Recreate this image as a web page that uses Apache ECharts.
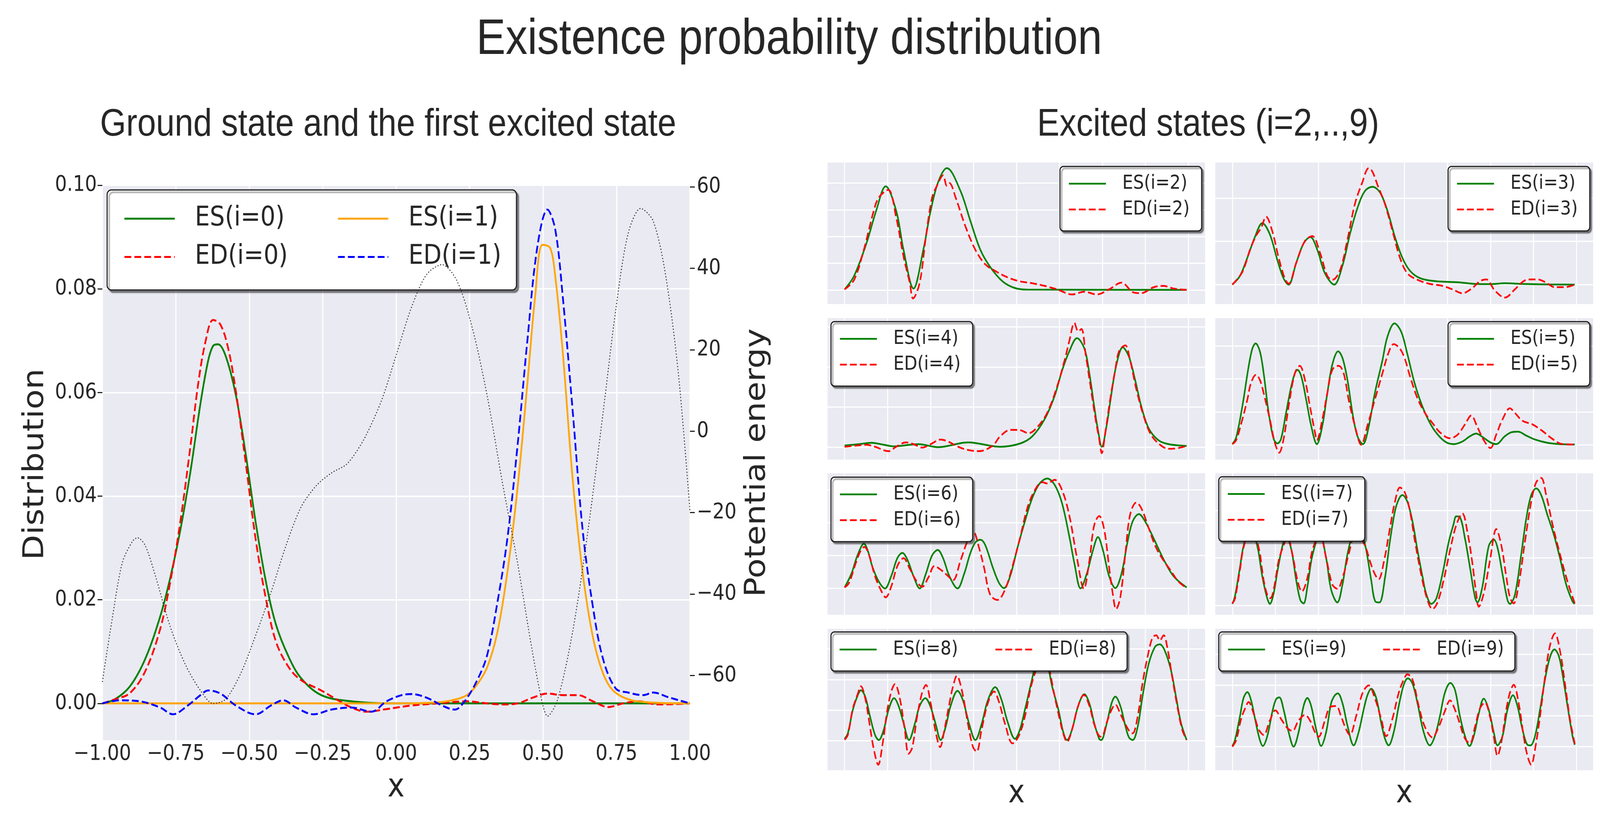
<!DOCTYPE html>
<html><head><meta charset="utf-8">
<script src="https://cdn.jsdelivr.net/npm/echarts@6/dist/echarts.min.js"></script>
<style>html,body{margin:0;padding:0;background:#fff;overflow:hidden;}#c{width:4675px;height:2111px;transform-origin:0 0;}</style>
</head><body><div id="c"></div>
<script>
// ---------------- data ----------------
const xGrid = [-1, -0.75, -0.5, -0.25, 0, 0.25, 0.5, 0.75, 1];
const distTicks = [0, 0.02, 0.04, 0.06, 0.08, 0.1];
const potTicks = [-60, -40, -20, 0, 20, 40, 60];

const es0 = [[-1,0],[-0.957,0.0008],[-0.906,0.0033],[-0.854,0.0086],[-0.803,0.0168],[-0.769,0.0242],[-0.735,0.0333],[-0.700,0.0448],[-0.666,0.0579],[-0.640,0.0661],[-0.623,0.0690],[-0.606,0.0693],[-0.580,0.0670],[-0.546,0.0596],[-0.512,0.0481],[-0.478,0.0349],[-0.443,0.0234],[-0.409,0.0152],[-0.366,0.0090],[-0.324,0.0049],[-0.255,0.0016],[-0.152,0.0004],[-0.015,0],[1,0]];
const ed0 = [[-1,0],[-0.957,0.0008],[-0.906,0.002],[-0.854,0.0062],[-0.803,0.0144],[-0.769,0.0234],[-0.735,0.0349],[-0.700,0.0497],[-0.675,0.0612],[-0.649,0.0698],[-0.623,0.0740],[-0.598,0.0731],[-0.572,0.0686],[-0.546,0.0604],[-0.512,0.0464],[-0.478,0.0316],[-0.443,0.0201],[-0.409,0.0119],[-0.366,0.0070],[-0.324,0.0045],[-0.255,0.0025],[-0.204,0.0008],[-0.152,-0.0008],[-0.101,-0.0016],[-0.033,-0.0011],[0.053,-0.0004],[0.139,0],[0.241,0.0004],[0.310,0],[0.361,-0.0002],[0.413,0],[0.464,0.0011],[0.515,0.0019],[0.567,0.0016],[0.618,0.0016],[0.670,0.0004],[0.721,-0.0007],[0.772,0],[0.824,0.0004],[0.892,-0.0002],[1,0]];
const es1 = [[-1,0],[0.019,0],[0.139,0.0002],[0.190,0.0006],[0.241,0.0016],[0.276,0.0037],[0.310,0.0070],[0.344,0.0136],[0.378,0.0251],[0.413,0.0415],[0.447,0.0620],[0.473,0.0785],[0.498,0.0885],[0.524,0.0879],[0.541,0.0826],[0.567,0.0678],[0.601,0.0431],[0.635,0.0251],[0.670,0.0127],[0.704,0.0058],[0.738,0.0025],[0.789,0.0008],[0.858,0.0002],[1,0]];
const ed1 = [[-1,0],[-0.940,0.0006],[-0.872,0.0004],[-0.803,-0.0008],[-0.760,-0.0021],[-0.709,-0.0004],[-0.666,0.0016],[-0.640,0.0025],[-0.598,0.0019],[-0.546,-0.0004],[-0.478,-0.0021],[-0.426,-0.0004],[-0.384,0.0006],[-0.341,-0.0008],[-0.281,-0.0021],[-0.221,-0.0012],[-0.152,-0.0008],[-0.084,-0.0016],[-0.033,0.0004],[0.019,0.0016],[0.053,0.0018],[0.104,0.0011],[0.156,-0.0004],[0.199,-0.0012],[0.233,0.0004],[0.276,0.0045],[0.310,0.0094],[0.344,0.0193],[0.378,0.0316],[0.413,0.0497],[0.447,0.0703],[0.481,0.0883],[0.515,0.0953],[0.541,0.0916],[0.567,0.0785],[0.601,0.0563],[0.635,0.0333],[0.670,0.0185],[0.704,0.0086],[0.747,0.0029],[0.789,0.0021],[0.841,0.0016],[0.875,0.0021],[0.926,0.0012],[1,0]];
const potential = [[-1,-61.6],[-0.966,-45.9],[-0.932,-32.3],[-0.897,-27.0],[-0.880,-26.2],[-0.854,-28.1],[-0.820,-35.4],[-0.769,-48.0],[-0.717,-57.4],[-0.666,-63.7],[-0.623,-66.9],[-0.580,-65.8],[-0.529,-59.5],[-0.478,-50.1],[-0.426,-39.6],[-0.375,-28.1],[-0.324,-18.7],[-0.272,-13.4],[-0.221,-10.3],[-0.170,-8.2],[-0.135,-5.0],[-0.101,-0.8],[-0.050,7.5],[0.002,19.1],[0.053,30.6],[0.104,38.5],[0.156,40.9],[0.207,36.9],[0.259,25.4],[0.310,8.6],[0.361,-12.4],[0.413,-32.3],[0.464,-54.3],[0.498,-66.9],[0.515,-70.0],[0.550,-65.8],[0.601,-49.1],[0.652,-24.9],[0.704,4.4],[0.747,29.6],[0.789,48.4],[0.832,54.7],[0.875,51.6],[0.918,37.9],[0.961,13.8],[1,-19.7]];

const es2 = [[-1,0.02],[-0.945,0.52],[-0.873,1.74],[-0.816,2.97],[-0.761,3.88],[-0.700,2.97],[-0.657,1.50],[-0.599,0.05],[-0.542,1.50],[-0.499,2.97],[-0.455,4.05],[-0.405,4.56],[-0.326,3.71],[-0.268,2.58],[-0.210,1.50],[-0.153,0.86],[-0.081,0.32],[-0.009,0.07],[0.063,0.01],[0.99,0]];
const ed2 = [[-1,0.02],[-0.945,0.37],[-0.888,1.50],[-0.830,2.97],[-0.801,3.46],[-0.746,3.75],[-0.700,2.72],[-0.657,1.25],[-0.621,0.27],[-0.602,-0.32],[-0.563,0.27],[-0.527,1.99],[-0.491,3.46],[-0.463,3.90],[-0.427,4.29],[-0.405,3.90],[-0.390,4.00],[-0.354,3.46],[-0.297,2.38],[-0.239,1.50],[-0.182,0.96],[-0.124,0.71],[-0.052,0.47],[0.020,0.32],[0.092,0.25],[0.164,0.15],[0.236,0.02],[0.323,-0.17],[0.395,-0.07],[0.467,-0.17],[0.539,0.02],[0.611,0.27],[0.683,-0.10],[0.726,-0.12],[0.798,0.10],[0.856,0.15],[0.914,0.05],[0.99,0]];
const es3 = [[-1,0],[-0.956,0.20],[-0.913,0.62],[-0.869,1.10],[-0.826,1.42],[-0.782,1.16],[-0.738,0.56],[-0.702,0.14],[-0.673,0],[-0.629,0.50],[-0.586,0.95],[-0.547,1.10],[-0.506,0.80],[-0.462,0.26],[-0.408,0],[-0.360,0.44],[-0.317,1.16],[-0.273,1.77],[-0.230,2.16],[-0.186,2.26],[-0.142,2.13],[-0.099,1.71],[-0.055,1.10],[-0.012,0.62],[0.032,0.32],[0.090,0.15],[0.177,0.08],[0.323,0.05],[0.410,0.015],[0.497,0.01],[0.584,0.03],[0.686,0.015],[0.831,0.005],[0.99,0]];
const ed3 = [[-1,0],[-0.942,0.29],[-0.898,0.80],[-0.862,1.13],[-0.833,1.31],[-0.804,1.57],[-0.767,1.22],[-0.731,0.62],[-0.695,0.14],[-0.673,0.02],[-0.629,0.50],[-0.578,1.01],[-0.535,1.12],[-0.491,0.74],[-0.448,0.20],[-0.419,0.11],[-0.375,0.32],[-0.331,1.04],[-0.288,1.86],[-0.244,2.37],[-0.208,2.69],[-0.186,2.61],[-0.157,2.31],[-0.113,1.86],[-0.070,1.25],[-0.026,0.62],[0.017,0.26],[0.076,0.11],[0.148,0.015],[0.221,-0.03],[0.279,-0.11],[0.337,-0.20],[0.395,-0.08],[0.439,0.08],[0.475,0.12],[0.526,-0.14],[0.584,-0.30],[0.642,-0.11],[0.686,0.06],[0.722,0.12],[0.773,0.12],[0.817,0.06],[0.875,-0.06],[0.933,-0.06],[0.99,0]];
const es4 = [[-1,0.04],[-0.916,0.075],[-0.844,0.11],[-0.772,0.06],[-0.715,0.02],[-0.571,0.075],[-0.455,0.0],[-0.282,0.12],[-0.095,0.01],[0.020,0.09],[0.092,0.27],[0.164,0.70],[0.222,1.28],[0.265,1.91],[0.308,2.40],[0.352,2.72],[0.395,2.46],[0.424,1.84],[0.452,1.02],[0.474,0.43],[0.496,0.01],[0.524,0.53],[0.553,1.35],[0.582,2.07],[0.618,2.49],[0.654,2.26],[0.690,1.68],[0.726,1.02],[0.769,0.47],[0.827,0.17],[0.885,0.075],[0.99,0.03]];
const ed4 = [[-1,0.01],[-0.931,0.04],[-0.873,0.06],[-0.823,0.01],[-0.744,-0.10],[-0.700,0.01],[-0.643,0.12],[-0.599,0.075],[-0.549,-0.01],[-0.499,0.075],[-0.441,0.19],[-0.398,0.14],[-0.340,0.01],[-0.282,-0.07],[-0.218,-0.10],[-0.138,0.04],[-0.095,0.27],[-0.037,0.43],[0.013,0.43],[0.071,0.35],[0.121,0.50],[0.179,0.86],[0.236,1.51],[0.280,2.17],[0.308,2.66],[0.337,3.10],[0.359,2.89],[0.378,2.95],[0.402,2.33],[0.431,1.51],[0.460,0.70],[0.481,0.21],[0.496,-0.15],[0.517,0.37],[0.546,1.22],[0.575,1.94],[0.597,2.40],[0.633,2.54],[0.661,2.17],[0.697,1.45],[0.741,0.76],[0.784,0.30],[0.841,0.04],[0.885,-0.04],[0.942,-0.02],[0.99,0.03]];
const es5 = [[-1,0.02],[-0.978,0.22],[-0.942,1.17],[-0.906,2.36],[-0.884,2.92],[-0.865,3.08],[-0.840,2.84],[-0.818,2.17],[-0.789,0.97],[-0.760,0.18],[-0.738,0.04],[-0.717,0.18],[-0.688,0.97],[-0.658,1.77],[-0.637,2.17],[-0.622,2.28],[-0.600,2.09],[-0.571,1.37],[-0.542,0.58],[-0.509,0.02],[-0.477,0.58],[-0.448,1.57],[-0.419,2.44],[-0.385,2.84],[-0.360,2.64],[-0.331,1.97],[-0.302,0.97],[-0.273,0.26],[-0.241,0.02],[-0.208,0.54],[-0.172,1.57],[-0.128,2.56],[-0.099,3.28],[-0.058,3.69],[-0.019,3.44],[0.017,2.76],[0.054,1.97],[0.090,1.37],[0.134,0.81],[0.177,0.42],[0.235,0.10],[0.286,0.02],[0.337,0.10],[0.381,0.26],[0.417,0.34],[0.453,0.24],[0.497,0.08],[0.533,0.02],[0.584,0.26],[0.621,0.38],[0.660,0.40],[0.708,0.28],[0.759,0.16],[0.831,0.06],[0.904,0.02],[0.99,0.01]];
const ed5 = [[-1,0.02],[-0.978,0.14],[-0.942,0.77],[-0.913,1.37],[-0.891,1.89],[-0.862,2.13],[-0.840,1.97],[-0.818,1.57],[-0.782,0.77],[-0.753,0.06],[-0.728,-0.24],[-0.702,0.18],[-0.673,1.17],[-0.637,2.17],[-0.608,2.40],[-0.578,1.97],[-0.549,1.17],[-0.520,0.38],[-0.509,0.14],[-0.477,0.77],[-0.448,1.57],[-0.419,2.28],[-0.382,2.40],[-0.353,2.17],[-0.324,1.37],[-0.288,0.58],[-0.251,0],[-0.215,0.58],[-0.172,1.37],[-0.128,2.17],[-0.092,2.80],[-0.0625,3.06],[-0.026,2.92],[0.003,2.60],[0.032,2.09],[0.076,1.41],[0.119,0.97],[0.163,0.66],[0.206,0.38],[0.265,0.20],[0.308,0.30],[0.352,0.62],[0.388,0.89],[0.424,0.54],[0.461,0.14],[0.500,-0.10],[0.533,0.30],[0.570,0.77],[0.613,1.11],[0.642,0.97],[0.686,0.73],[0.744,0.62],[0.802,0.42],[0.860,0.18],[0.919,0.02],[0.99,0.01]];
const es6 = [[-1,0.03],[-0.960,0.45],[-0.931,0.92],[-0.902,1.28],[-0.888,1.36],[-0.866,1.16],[-0.837,0.64],[-0.801,0.21],[-0.765,0],[-0.729,0.37],[-0.693,0.92],[-0.664,1.08],[-0.635,0.88],[-0.599,0.37],[-0.563,0],[-0.527,0.45],[-0.491,1.00],[-0.458,1.17],[-0.427,0.92],[-0.390,0.37],[-0.343,0],[-0.304,0.45],[-0.268,1.08],[-0.239,1.40],[-0.210,1.48],[-0.182,1.32],[-0.138,0.64],[-0.102,0.17],[-0.073,0.01],[-0.037,0.37],[0.006,1.24],[0.049,2.04],[0.092,2.75],[0.135,3.19],[0.179,3.34],[0.222,3.15],[0.265,2.59],[0.308,1.56],[0.337,0.76],[0.373,0],[0.409,0.45],[0.445,1.16],[0.474,1.56],[0.503,1.16],[0.539,0.37],[0.575,0.01],[0.611,0.45],[0.647,1.44],[0.676,2.04],[0.712,2.26],[0.748,2.04],[0.798,1.52],[0.856,0.88],[0.914,0.37],[0.99,0.03]];
const ed6 = [[-1,0.03],[-0.974,0.17],[-0.938,0.72],[-0.909,1.12],[-0.885,1.26],[-0.859,1.04],[-0.823,0.37],[-0.787,-0.07],[-0.761,-0.27],[-0.729,0.05],[-0.693,0.68],[-0.657,0.92],[-0.621,0.60],[-0.585,0.25],[-0.549,0.05],[-0.513,0.33],[-0.477,0.68],[-0.441,0.57],[-0.405,0.41],[-0.369,0.25],[-0.326,0.84],[-0.282,1.48],[-0.251,1.72],[-0.218,1.24],[-0.189,0.64],[-0.153,-0.19],[-0.110,-0.35],[-0.066,-0.03],[-0.023,0.68],[0.020,1.52],[0.063,2.44],[0.107,2.99],[0.150,3.23],[0.179,3.19],[0.222,3.30],[0.265,2.99],[0.308,2.20],[0.352,0.92],[0.392,-0.01],[0.424,0.84],[0.452,1.92],[0.481,2.20],[0.510,1.80],[0.539,0.64],[0.561,-0.19],[0.579,-0.63],[0.604,-0.27],[0.633,1.04],[0.661,2.24],[0.697,2.61],[0.726,2.44],[0.769,1.84],[0.805,1.32],[0.842,0.96],[0.899,0.53],[0.942,0.21],[0.99,0.01]];
const es7 = [[-1,0.03],[-0.985,0.19],[-0.956,0.80],[-0.935,1.25],[-0.895,1.66],[-0.855,1.25],[-0.826,0.61],[-0.799,0.17],[-0.782,0.03],[-0.760,0.25],[-0.738,0.72],[-0.709,1.25],[-0.688,1.47],[-0.658,1.19],[-0.629,0.53],[-0.605,0.11],[-0.586,0.04],[-0.564,0.39],[-0.535,1.05],[-0.491,1.50],[-0.455,1.00],[-0.426,0.33],[-0.390,0.06],[-0.360,0.44],[-0.331,1.08],[-0.295,1.55],[-0.266,1.61],[-0.230,1.30],[-0.193,0.53],[-0.169,0.08],[-0.145,0.06],[-0.113,0.58],[-0.084,1.36],[-0.055,1.99],[-0.033,2.24],[-0.012,2.33],[0.017,2.19],[0.047,1.77],[0.076,1.16],[0.105,0.61],[0.126,0.25],[0.156,0.03],[0.185,0.14],[0.221,0.66],[0.257,1.33],[0.286,1.72],[0.301,1.88],[0.323,1.86],[0.352,1.41],[0.381,0.80],[0.410,0.17],[0.424,0.06],[0.453,0.39],[0.490,1.25],[0.519,1.39],[0.541,1.22],[0.570,0.66],[0.599,0.11],[0.613,0.03],[0.642,0.22],[0.679,1.08],[0.708,1.83],[0.737,2.33],[0.766,2.47],[0.795,2.33],[0.831,1.91],[0.868,1.50],[0.904,1.00],[0.940,0.44],[0.977,0.08],[0.99,0.03]];
const ed7 = [[-1,0.04],[-0.985,0.14],[-0.956,0.75],[-0.935,1.22],[-0.891,1.69],[-0.847,1.22],[-0.818,0.53],[-0.797,0.22],[-0.779,0.15],[-0.760,0.33],[-0.731,0.94],[-0.702,1.27],[-0.680,1.44],[-0.651,1.08],[-0.622,0.53],[-0.596,0.29],[-0.564,0.58],[-0.535,1.16],[-0.491,1.50],[-0.455,1.00],[-0.419,0.44],[-0.390,0.35],[-0.353,0.66],[-0.324,1.08],[-0.281,1.55],[-0.230,1.27],[-0.201,0.94],[-0.172,0.66],[-0.150,0.55],[-0.121,0.89],[-0.084,1.63],[-0.055,2.19],[-0.026,2.49],[0.003,2.38],[0.032,1.99],[0.061,1.36],[0.097,0.66],[0.134,0.11],[0.163,-0.08],[0.192,0.06],[0.228,0.53],[0.265,1.16],[0.301,1.69],[0.337,1.94],[0.366,1.55],[0.395,0.89],[0.417,0.25],[0.432,-0.03],[0.461,0.25],[0.497,0.94],[0.534,1.61],[0.563,1.27],[0.592,0.61],[0.613,0.17],[0.635,0.04],[0.664,0.44],[0.701,1.36],[0.737,2.19],[0.766,2.60],[0.795,2.69],[0.824,2.33],[0.860,1.72],[0.904,1.08],[0.948,0.50],[0.99,0.04]];
const es8 = [[-1,0.06],[-0.981,0.24],[-0.952,1.01],[-0.924,1.48],[-0.905,1.65],[-0.880,1.44],[-0.852,0.79],[-0.823,0.19],[-0.801,0.02],[-0.772,0.36],[-0.744,1.01],[-0.712,1.39],[-0.686,1.14],[-0.657,0.58],[-0.625,0.02],[-0.592,0.54],[-0.563,1.14],[-0.530,1.39],[-0.499,1.09],[-0.470,0.54],[-0.441,0.02],[-0.412,0.45],[-0.383,1.14],[-0.343,1.63],[-0.311,1.31],[-0.275,0.54],[-0.239,0.02],[-0.203,0.54],[-0.167,1.31],[-0.124,1.75],[-0.088,1.35],[-0.052,0.62],[-0.009,0.06],[0.020,0.36],[0.049,1.01],[0.085,1.87],[0.114,2.51],[0.147,2.77],[0.179,2.51],[0.207,1.78],[0.244,1.01],[0.272,0.28],[0.294,0.02],[0.323,0.36],[0.359,1.14],[0.395,1.52],[0.424,1.22],[0.452,0.58],[0.481,0.06],[0.493,0.02],[0.524,0.54],[0.553,1.22],[0.575,1.44],[0.604,1.14],[0.633,0.49],[0.654,0.11],[0.676,0.02],[0.705,0.45],[0.733,1.44],[0.769,2.51],[0.806,3.07],[0.834,3.15],[0.863,2.94],[0.899,2.30],[0.928,1.44],[0.957,0.58],[0.99,0.02]];
const ed8 = [[-1,0.03],[-0.981,0.19],[-0.952,1.05],[-0.924,1.52],[-0.905,1.78],[-0.880,1.39],[-0.852,0.45],[-0.830,-0.28],[-0.804,-0.79],[-0.780,-0.15],[-0.751,1.01],[-0.726,1.65],[-0.707,1.85],[-0.679,1.39],[-0.650,0.36],[-0.628,-0.43],[-0.607,-0.24],[-0.578,0.79],[-0.549,1.57],[-0.527,1.82],[-0.499,1.22],[-0.470,0.28],[-0.444,-0.21],[-0.419,0.36],[-0.390,1.22],[-0.369,1.78],[-0.347,2.12],[-0.318,1.65],[-0.282,0.54],[-0.254,-0.19],[-0.232,-0.36],[-0.203,0.36],[-0.167,1.22],[-0.131,1.61],[-0.102,1.27],[-0.066,0.54],[-0.023,-0.09],[0.013,0.15],[0.049,0.79],[0.085,1.78],[0.121,2.42],[0.150,2.73],[0.186,2.42],[0.215,1.65],[0.244,0.88],[0.272,0.24],[0.294,-0.04],[0.323,0.36],[0.359,1.14],[0.392,1.50],[0.424,1.14],[0.452,0.54],[0.481,0.15],[0.496,0.13],[0.524,0.58],[0.553,1.01],[0.575,1.18],[0.604,0.88],[0.633,0.54],[0.661,0.28],[0.676,0.24],[0.705,0.79],[0.733,1.87],[0.762,2.73],[0.791,3.37],[0.813,3.45],[0.834,3.28],[0.856,3.45],[0.878,3.03],[0.906,2.08],[0.935,1.14],[0.964,0.36],[0.99,0.02]];
const es9 = [[-1,0.02],[-0.985,0.21],[-0.956,0.98],[-0.935,1.58],[-0.913,1.77],[-0.891,1.50],[-0.862,0.73],[-0.840,0.21],[-0.823,0.02],[-0.797,0.34],[-0.767,1.15],[-0.746,1.54],[-0.727,1.60],[-0.702,1.20],[-0.673,0.47],[-0.644,0],[-0.615,0.47],[-0.586,1.32],[-0.564,1.58],[-0.542,1.32],[-0.513,0.56],[-0.484,0.02],[-0.455,0.47],[-0.426,1.41],[-0.404,1.67],[-0.387,1.73],[-0.360,1.41],[-0.331,0.68],[-0.295,0.04],[-0.266,0.47],[-0.237,1.20],[-0.215,1.67],[-0.193,1.88],[-0.164,1.58],[-0.135,0.77],[-0.113,0.26],[-0.092,0.04],[-0.062,0.47],[-0.033,1.32],[-0.004,2.01],[0.020,2.22],[0.047,2.05],[0.076,1.41],[0.112,0.47],[0.148,0.04],[0.177,0.34],[0.206,0.98],[0.235,1.75],[0.267,2.07],[0.294,1.84],[0.323,0.98],[0.352,0.34],[0.378,0.02],[0.403,0.34],[0.432,1.07],[0.461,1.56],[0.490,1.20],[0.519,0.47],[0.541,0.04],[0.570,0.34],[0.599,1.20],[0.631,1.67],[0.657,1.32],[0.686,0.56],[0.715,0.06],[0.733,0.04],[0.759,0.34],[0.788,1.20],[0.817,2.18],[0.846,2.91],[0.872,3.16],[0.897,2.95],[0.919,2.35],[0.948,1.32],[0.977,0.34],[0.99,0.06]];
const ed9 = [[-1,0],[-0.978,0.21],[-0.949,0.90],[-0.920,1.32],[-0.906,1.45],[-0.876,1.07],[-0.847,0.56],[-0.818,0.38],[-0.782,0.85],[-0.750,1.18],[-0.717,0.90],[-0.680,0.60],[-0.651,0.51],[-0.615,0.85],[-0.578,1.03],[-0.549,0.85],[-0.520,0.47],[-0.499,0.32],[-0.462,0.85],[-0.433,1.28],[-0.397,1.32],[-0.368,0.98],[-0.339,0.56],[-0.317,0.38],[-0.281,0.98],[-0.251,1.62],[-0.230,1.88],[-0.208,1.99],[-0.172,1.58],[-0.135,0.90],[-0.106,0.34],[-0.070,0.90],[-0.033,1.75],[-0.004,2.18],[0.017,2.35],[0.047,2.18],[0.083,1.32],[0.119,0.64],[0.163,0.30],[0.199,0.64],[0.235,1.15],[0.265,1.50],[0.294,1.20],[0.323,0.73],[0.352,0.26],[0.381,0.11],[0.410,0.64],[0.439,1.24],[0.468,1.43],[0.497,0.98],[0.519,0.34],[0.541,-0.30],[0.563,0.13],[0.592,1.20],[0.613,1.75],[0.635,2.01],[0.664,1.41],[0.693,0.34],[0.715,-0.30],[0.737,-0.59],[0.759,-0.09],[0.788,0.98],[0.817,2.26],[0.846,3.29],[0.875,3.68],[0.904,3.12],[0.933,2.05],[0.962,0.90],[0.99,0.09]];

const esSeries = [es2, es3, es4, es5, es6, es7, es8, es9];
const edSeries = [ed2, ed3, ed4, ed5, ed6, ed7, ed8, ed9];
const esNames = ['ES(i=2)','ES(i=3)','ES(i=4)','ES(i=5)','ES(i=6)','ES((i=7)','ES(i=8)','ES(i=9)'];
const edNames = ['ED(i=2)','ED(i=3)','ED(i=4)','ED(i=5)','ED(i=6)','ED(i=7)','ED(i=8)','ED(i=9)'];
const subYMin = [-0.53, -0.45, -0.31, -0.45, -0.80, -0.20, -0.97, -0.77];
const subYMax = [4.77, 2.82, 3.22, 3.85, 3.50, 2.79, 3.66, 3.83];
const subYGrid = [[0,1,2,3,4],[0,1,2],[0,1,2,3],[0,1,2,3],[0,1,2,3],[0,1,2],[0,1,2,3],[0,1,2,3]];

// ---------------- layout & style ----------------
// The chart is laid out on the 4675x2111 reference frame and then fitted to the real viewport.
const W = 4675, H = 2111;
const box = document.getElementById('c');
const sx = window.innerWidth / W, sy = window.innerHeight / H;
if (sx > 0 && sy > 0 && (Math.abs(sx - 1) > 0.002 || Math.abs(sy - 1) > 0.002)) {
  box.style.transform = 'scale(' + sx + ',' + sy + ')';
}

const SANS = 'DejaVu Sans';
const HEAD = 'Liberation Sans';
const INK = '#262626';
const BG = '#EAEAF2';
const GREEN = '#008000', RED = '#ff0000', ORANGE = '#ffa500', BLUE = '#0000ff';
const minus = v => (v < 0 ? '\u2212' : '') + Math.abs(v);

const subLeft = [2418, 3551];
const subWidth = [1103, 1104];
const subTop = [416, 814, 1211, 1609];
const subHeight = 362;

const grids = [{left: 299, top: 474, width: 1717, height: 1420, show: true, backgroundColor: BG, borderWidth: 0}];
for (let k = 0; k < 8; k++) {
  const c = k % 2, r = Math.floor(k / 2);
  grids.push({left: subLeft[c], top: subTop[r], width: subWidth[c], height: subHeight, show: true, backgroundColor: BG, borderWidth: 0});
}

const white = w => ({show: true, lineStyle: {color: '#ffffff', width: w, type: 'solid'}});
const noLine = {show: false, onZero: false};
const xAxes = [{
  gridIndex: 0, type: 'value', min: -1, max: 1, interval: 0.25,
  axisLine: noLine, axisTick: {show: false},
  axisLabel: {formatter: v => (v < 0 ? '\u2212' : '') + Math.abs(v).toFixed(2), fontFamily: SANS, fontSize: 55, color: INK, margin: 8},
  splitLine: white(3.5)
}];
const yAxes = [{
  gridIndex: 0, type: 'value', min: -0.0071, max: 0.1, position: 'left',
  axisLine: noLine,
  axisTick: {show: true, length: 14, customValues: distTicks, lineStyle: {color: INK, width: 3}},
  axisLabel: {customValues: distTicks, formatter: v => v.toFixed(2), fontFamily: SANS, fontSize: 55, color: INK, margin: 16},
  splitLine: white(3.5)
}, {
  gridIndex: 0, type: 'value', min: -75.9, max: 60.4, position: 'right',
  axisLine: noLine,
  axisTick: {show: true, length: 14, customValues: potTicks, lineStyle: {color: INK, width: 3}},
  axisLabel: {customValues: potTicks, formatter: minus, fontFamily: SANS, fontSize: 55, color: INK, margin: 20},
  splitLine: {show: false}
}];
for (let k = 0; k < 8; k++) {
  xAxes.push({gridIndex: k + 1, type: 'value', min: -1.099, max: 1.097,
    axisLine: noLine, axisTick: {show: false, customValues: xGrid}, axisLabel: {show: false, customValues: xGrid}, splitLine: white(3)});
  yAxes.push({gridIndex: k + 1, type: 'value', min: subYMin[k], max: subYMax[k],
    axisLine: noLine, axisTick: {show: false, customValues: subYGrid[k]}, axisLabel: {show: false, customValues: subYGrid[k]}, splitLine: white(3)});
}

const DASH = [20, 9];
function line(name, data, xi, yi, color, dash, width, z) {
  return {
    name, type: 'line', data, xAxisIndex: xi, yAxisIndex: yi, showSymbol: false, symbol: 'none',
    smooth: dash === 'dotted' ? 0.3 : 0.35, z: z || 2, silent: true,
    lineStyle: {color, width, type: dash === 'dotted' ? [3, 5] : (dash ? DASH : 'solid'), cap: 'butt'},
    itemStyle: {color}
  };
}
const series = [
  line('ES(i=0)', es0, 0, 0, GREEN, false, 5),
  line('ED(i=0)', ed0, 0, 0, RED, true, 5),
  line('ES(i=1)', es1, 0, 0, ORANGE, false, 5),
  line('ED(i=1)', ed1, 0, 0, BLUE, true, 5),
  line('Potential', potential, 0, 1, '#222222', 'dotted', 2.5, 6)
];
for (let k = 0; k < 8; k++) {
  series.push(line(esNames[k], esSeries[k], k + 1, k + 2, GREEN, false, 4.5));
  series.push(line(edNames[k], edSeries[k], k + 1, k + 2, RED, true, 4.5));
}

const item = (name, color, dashed, w) => ({name, itemStyle: {opacity: 0},
  lineStyle: {color, width: w, type: dashed ? DASH : 'solid', cap: 'butt', opacity: 1}});
const boxStyle = {backgroundColor: '#ffffff', borderColor: '#1a1a1a', borderWidth: 3,
  shadowBlur: 3, shadowColor: 'rgba(0,0,0,0.45)', shadowOffsetX: 6, shadowOffsetY: 6};
const legends = [
  Object.assign({data: [item('ES(i=0)', GREEN, false, 5), item('ED(i=0)', RED, true, 5)], left: 313, top: 486, orient: 'vertical',
    itemWidth: 147, itemHeight: 80, itemGap: 29, padding: [39, 668, 50, 48], borderRadius: 12, z: 4,
    selectedMode: false,
    textStyle: {fontFamily: SANS, fontSize: 69, color: INK, padding: [0, 0, 0, 54], width: 280}}, boxStyle),
  {data: [item('ES(i=1)', ORANGE, false, 5), item('ED(i=1)', BLUE, true, 5)], left: 985, top: 525, orient: 'vertical', padding: 0,
    itemWidth: 147, itemHeight: 80, itemGap: 29, z: 5, selectedMode: false,
    textStyle: {fontFamily: SANS, fontSize: 69, color: INK, padding: [0, 0, 0, 54], width: 280}}
];
const legLeft = [3097, 4231, 2428, 4231, 2428, 3561, 2428, 3561];
const legTop = [426, 426, 823, 823, 1221, 1220, 1617, 1617];
for (let k = 0; k < 8; k++) {
  const horiz = k >= 6;
  legends.push(Object.assign({
    data: [item(esNames[k], GREEN, false, 4.5), item(edNames[k], RED, true, 4.5)], left: legLeft[k], top: legTop[k],
    orient: horiz ? 'horizontal' : 'vertical',
    itemWidth: 108, itemHeight: 56, itemGap: horiz ? (k === 6 ? 107 : 105) : 16,
    padding: horiz ? [20, 32, 30, k === 6 ? 23 : 25] : [19, 35, 30, 24],
    borderRadius: 10, z: 4, selectedMode: false,
    textStyle: {fontFamily: SANS, fontSize: 50, color: INK, padding: [0, 0, 0, 43], width: k === 5 ? 211 : 200}
  }, boxStyle, {shadowOffsetX: 5, shadowOffsetY: 5}));
}

function txt(text, x, y, font, size, rot) {
  return {type: 'text', x, y, rotation: rot || 0, z: 10, silent: true,
    style: {text, x: 0, y: 0, fill: INK, font: size + 'px "' + font + '"', fontFamily: font, fontSize: size,
      textAlign: 'center', textVerticalAlign: 'middle', verticalAlign: 'middle'}};
}
const graphics = [
  txt('Existence probability distribution', 2306, 103, HEAD, 128),
  txt('Ground state and the first excited state', 1134, 320, HEAD, 98),
  txt('Excited states (i=2,..,9)', 3530, 320, HEAD, 98),
  txt('Distribution', 104, 1188, SANS, 84, Math.PI / 2),
  txt('Potential energy', 2213, 1184, SANS, 84, Math.PI / 2),
  txt('x', 1157, 2016, SANS, 84),
  txt('x', 2970, 2032, SANS, 82),
  txt('x', 4103, 2032, SANS, 82)
];

const chart = echarts.init(box, null, {renderer: 'canvas', width: W, height: H});
chart.setOption({
  animation: false,
  backgroundColor: '#ffffff',
  grid: grids, xAxis: xAxes, yAxis: yAxes, series, legend: legends,
  graphic: {elements: graphics}
});
</script></body></html>
